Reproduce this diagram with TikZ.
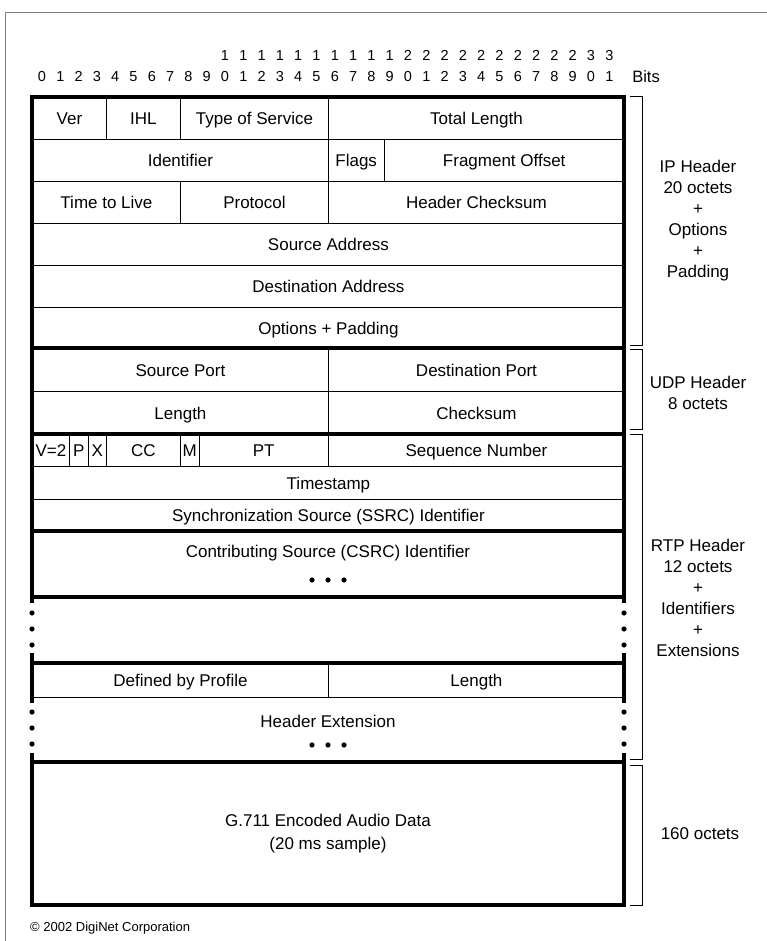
\documentclass[tikz,border=0pt]{standalone}
\usepackage{fontspec}
\setmainfont{Liberation Sans}

\begin{document}
\begin{tikzpicture}[
  x=1pt, y=-1pt,
  txt/.style={font=\fontsize{17}{21}\selectfont, inner sep=0pt},
  capc/.style={txt, text height=12.2pt, text depth=0pt},
  fld/.style 2 args={capc, draw, line width=0.9pt, minimum width=#1*18.5pt,
    minimum height=#2pt, anchor=north west},
  bitno/.style={font=\fontsize{14.5}{16}\selectfont, inner sep=0pt,
    text height=10.4pt, text depth=0pt},
  side/.style={txt, align=center},
  thk/.style={line width=3.2pt},
  brk/.style={line width=1pt}
]
\useasboundingbox (0,0) rectangle (767,941);
\draw[gray, line width=0.9pt] (767,12) -- (5,12) -- (5,941);

% bit ruler
\foreach \b in {0,...,31}{
  \pgfmathtruncatemacro\ones{mod(\b,10)}
  \pgfmathtruncatemacro\tens{\b/10}
  \node[bitno] (bit\b) at (42+18.3*\b,76) {\ones};
  \ifnum\b>9 \node[bitno] (tens\b) at (42+18.3*\b,55) {\tens};\fi
}
\node[bitno, font=\fontsize{16.5}{18}\selectfont, text height=11.8pt] (bits) at (646,77) {Bits};

\begin{scope}[xshift=32pt, x=18.5pt]
% IP header
\node[fld={4}{42}] (ver) at (0,97) {Ver};
\node[fld={4}{42}] (ihl) at (4,97) {IHL};
\node[fld={8}{42}] (tos) at (8,97) {Type of Service};
\node[fld={16}{42}] (tlen) at (16,97) {Total Length};
\node[fld={16}{42}] (ident) at (0,139) {Identifier};
\node[fld={3}{42}] (flags) at (16,139) {Flags};
\node[fld={13}{42}] (frag) at (19,139) {Fragment Offset};
\node[fld={8}{42}] (ttl) at (0,181) {Time to Live};
\node[fld={8}{42}] (proto) at (8,181) {Protocol};
\node[fld={16}{42}] (hcsum) at (16,181) {Header Checksum};
\node[fld={32}{42}] (srcaddr) at (0,223) {Source Address};
\node[fld={32}{42}] (dstaddr) at (0,265) {Destination Address};
\node[fld={32}{41}] (opts) at (0,307) {Options + Padding};

% UDP header
\node[fld={16}{43}] (sport) at (0,348) {Source Port};
\node[fld={16}{43}] (dport) at (16,348) {Destination Port};
\node[fld={16}{43}] (ulen) at (0,391) {Length};
\node[fld={16}{43}] (ucsum) at (16,391) {Checksum};

% RTP header
\node[fld={2}{32}] (vers) at (0,434) {V=2};
\node[fld={1}{32}] (pad) at (2,434) {P};
\node[fld={1}{32}] (ext) at (3,434) {X};
\node[fld={4}{32}] (cc) at (4,434) {CC};
\node[fld={1}{32}] (mrk) at (8,434) {M};
\node[fld={7}{32}] (ptype) at (9,434) {PT};
\node[fld={16}{32}] (seq) at (16,434) {Sequence Number};
\node[fld={32}{33}] (tstamp) at (0,466) {Timestamp};
\node[fld={32}{32}] (ssrc) at (0,499) {Synchronization Source (SSRC) Identifier};
\node[fld={32}{66}] (csrc) at (0,531) {};
\node[capc] (csrctxt) at (16,551) {Contributing Source (CSRC) Identifier};
\node[fld={16}{34}] (prof) at (0,663) {Defined by Profile};
\node[fld={16}{34}] (xlen) at (16,663) {Length};
\node[capc] (hexttxt) at (16,721) {Header Extension};

% payload
\node[fld={32}{143}] (audio) at (0,762) {};
\node[side, font=\fontsize{17}{23}\selectfont] (audiotxt) at (16,834)
  {G.711 Encoded Audio Data\\(20 ms sample)};

% heavy outline, broken where the rows repeat
\draw[thk] (0,603) -- (0,97) -- (32,97) -- (32,603);
\foreach \yy in {348,434,531,597,663,762}
  \draw[thk] (0,\yy) -- (32,\yy);
\draw[thk] (0,653) -- (0,703);
\draw[thk] (32,653) -- (32,703);
\draw[thk] (0,753) -- (0,905) -- (32,905) -- (32,753);

% continuation dots
\foreach \yy in {613,629,645,712,728,744}{
  \fill (0,\yy) circle (2.6pt);
  \fill (32,\yy) circle (2.6pt);
}
\foreach \d in {-0.865,0,0.865}{
  \fill (16+\d,580) circle (2.6pt);
  \fill (16+\d,745) circle (2.6pt);
}
\end{scope}

% section brackets
\draw[brk] (630,97) -- (642,97) -- (642,345) -- (630,345);
\draw[brk] (630,349) -- (642,349) -- (642,429) -- (630,429);
\draw[brk] (630,434) -- (642,434) -- (642,759) -- (630,759);
\draw[brk] (630,765) -- (642,765) -- (642,905) -- (630,905);

\node[side] (iplbl) at (698,221) {IP Header\\20 octets\\+\\Options\\+\\Padding};
\node[side] (udplbl) at (698,393) {UDP Header\\8 octets};
\node[side] (rtplbl) at (698,598) {RTP Header\\12 octets\\+\\Identifiers\\+\\Extensions};
\node[side] (audlbl) at (700,834) {160 octets};

\node[txt, font=\fontsize{13}{15}\selectfont, anchor=west] (copyr) at (30,928) {© 2002 DigiNet Corporation};
\end{tikzpicture}
\end{document}
